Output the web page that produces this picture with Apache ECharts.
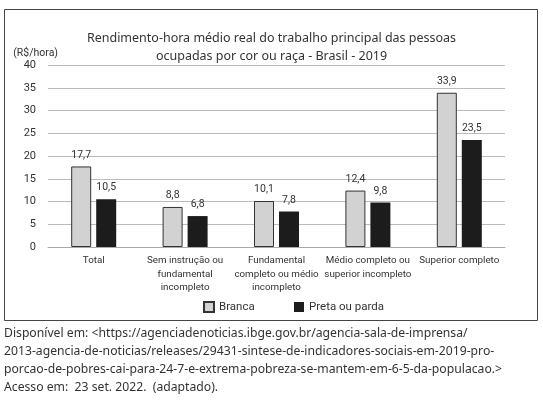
<!DOCTYPE html>
<html><head><meta charset="utf-8">
<script src="https://cdn.jsdelivr.net/npm/echarts@6/dist/echarts.min.js"></script>
<style>html,body{margin:0;padding:0;background:#fff}#c{width:543px;height:412px}</style>
</head><body><div id="c"></div>
<script>
var categories = ['Total', 'Sem instrução ou\nfundamental\nincompleto', 'Fundamental\ncompleto ou médio\nincompleto', 'Médio completo ou\nsuperior incompleto', 'Superior completo'];
var branca = [17.7, 8.8, 10.1, 12.4, 33.9];
var pretaParda = [10.5, 6.8, 7.8, 9.8, 23.5];
var seriesNames = ['Branca', 'Preta ou parda'];
var yTicks = [0, 5, 10, 15, 20, 25, 30, 35, 40];
var titleText = 'Rendimento-hora médio real do trabalho principal das pessoas\nocupadas por cor ou raça - Brasil - 2019';
var unitText = '(R$/hora)';
var footerLines = [
  'Disponível em: <https://agenciadenoticias.ibge.gov.br/agencia-sala-de-imprensa/',
  '2013-agencia-de-noticias/releases/29431-sintese-de-indicadores-sociais-em-2019-pro-',
  'porcao-de-pobres-cai-para-24-7-e-extrema-pobreza-se-mantem-em-6-5-da-populacao.>',
  'Acesso em:  23 set. 2022.  (adaptado).'
];
var FONT = 'Noto Sans';
var NARROW = 'Roboto';
var chart = echarts.init(document.getElementById('c'));
var fmt = function(p){ return String(p.value).replace('.', ','); };
var graphics = [
  {type:'rect', shape:{x:4.5, y:9.5, width:533, height:311}, style:{fill:'none', stroke:'#444', lineWidth:1}, silent:true}
];
footerLines.forEach(function(t, i){
  graphics.push({type:'text', left:4, top:328 + i*17.7, style:{text:t, fontFamily:FONT, fontSize:12.2, fill:'#333'}, silent:true});
});
chart.setOption({
  animation:false,
  textStyle:{fontFamily:FONT},
  title:{text:titleText, left:'center', top:24, textStyle:{fontFamily:FONT, fontSize:12.5, fontWeight:'normal', color:'#333', lineHeight:18}},
  graphic:graphics,
  legend:[
    {data:[seriesNames[0]], left:203, top:301, padding:0, itemWidth:10, itemHeight:10, icon:'rect', textStyle:{fontFamily:NARROW, fontSize:11.5, color:'#333'}},
    {data:[seriesNames[1]], left:294, top:301, padding:0, itemWidth:10, itemHeight:10, icon:'rect', textStyle:{fontFamily:NARROW, fontSize:11.5, color:'#333'}}
  ],
  grid:{left:48, right:38, top:65, bottom:165},
  xAxis:{type:'category', data:categories, axisLine:{lineStyle:{color:'#aaa'}}, axisTick:{show:false},
    axisLabel:{interval:0, color:'#333', fontSize:9.8, lineHeight:13.5, margin:7, fontFamily:NARROW}},
  yAxis:{type:'value', min:0, max:40, interval:5, name:unitText, nameLocation:'end', nameGap:6,
    nameTextStyle:{color:'#333', fontSize:10.5, fontFamily:NARROW, align:'right', padding:[0,-10,0,0]},
    axisLine:{show:false}, axisTick:{show:false}, splitLine:{lineStyle:{color:'#bbb'}},
    axisLabel:{color:'#333', fontSize:11, fontFamily:NARROW, margin:12, formatter:function(v){return yTicks.indexOf(v)>=0?String(v):'';}}},
  series:[
    {name:seriesNames[0], type:'bar', data:branca, barWidth:20, barGap:'25%',
      itemStyle:{color:'#d2d2d2', borderColor:'#333', borderWidth:1},
      label:{show:true, position:'top', distance:6, color:'#333', fontSize:10.5, fontFamily:NARROW, formatter:fmt}},
    {name:seriesNames[1], type:'bar', data:pretaParda, barWidth:20, barGap:'25%',
      itemStyle:{color:'#1c1c1c'},
      label:{show:true, position:'top', distance:6, color:'#333', fontSize:10.5, fontFamily:NARROW, formatter:fmt}}
  ]
});
</script></body></html>
